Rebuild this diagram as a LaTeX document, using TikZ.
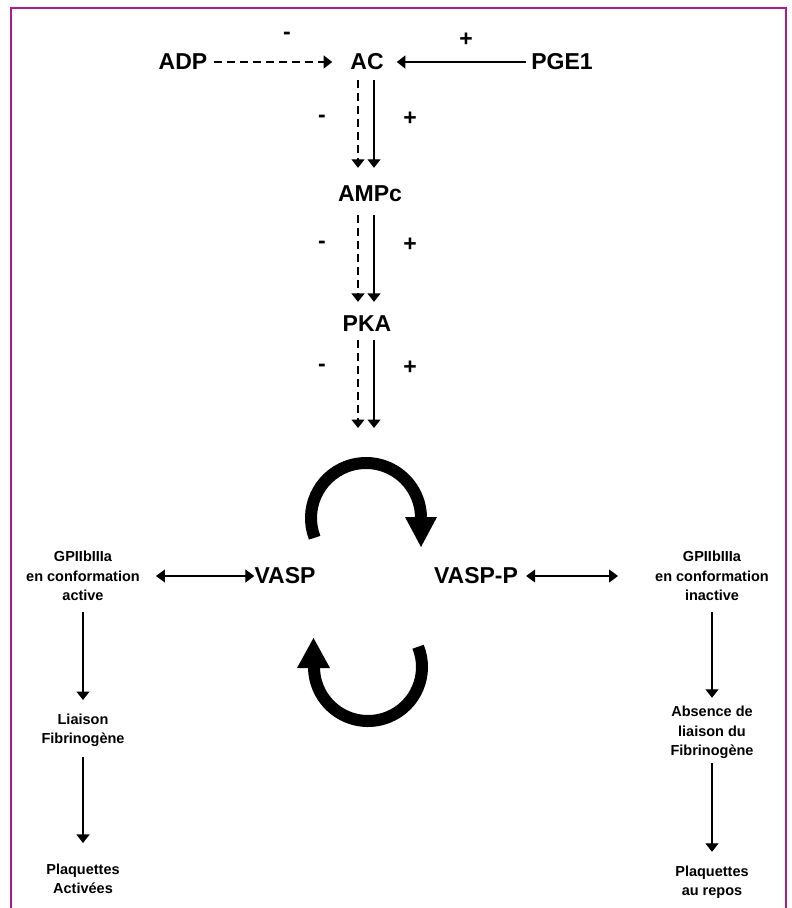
\documentclass[tikz,border=0pt]{standalone}
\usepackage{fontspec}
\setmainfont{Liberation Sans}
\usetikzlibrary{arrows.meta}
\definecolor{framecol}{RGB}{170,30,135}
\begin{document}
\begin{tikzpicture}[x=1pt,y=1pt,
 big/.style={font=\fontsize{23}{27}\selectfont\bfseries, inner sep=0pt},
 small/.style={font=\fontsize{14.5}{19.5}\selectfont\bfseries, inner sep=0pt, align=center},
 sign/.style={font=\fontsize{23}{27}\selectfont\bfseries, inner sep=0pt},
 arr/.style={line width=1.3pt, -{Triangle[width=13pt,length=8.5pt]}},
 darr/.style={line width=1.3pt, {Triangle[width=13pt,length=9pt]}-{Triangle[width=13pt,length=9pt]}},
 dsh/.style={dash pattern=on 8pt off 5pt},
 cyc/.style={line width=12pt},
]
\useasboundingbox (0,0) rectangle (792,-908);
\draw[framecol, line width=2pt] (11,-908) -- (11,-8) -- (786,-8) -- (786,-908);

% main nodes
\node[big] (ADP) at (183,-62) {ADP};
\node[big] (AC) at (367,-62) {AC};
\node[big] (PGE) at (562,-62) {PGE1};
\node[big] (AMPc) at (370,-194) {AMPc};
\node[big] (PKA) at (367,-324) {PKA};
\node[big] (VASP) at (285,-576) {VASP};
\node[big] (VASPP) at (476,-576) {VASP-P};
\coordinate (cyctop) at (367,-428);

% signs
\node[sign] (m1) at (287,-36) {-};
\node[sign] (p1) at (466,-40) {+};
\node[sign] (m2) at (322,-119) {-};
\node[sign] (p2) at (410,-119) {+};
\node[sign] (m3) at (322,-245) {-};
\node[sign] (p3) at (410,-245) {+};
\node[sign] (m4) at (322,-368) {-};
\node[sign] (p4) at (410,-368) {+};

% side texts
\node[small] (gpL) at (83,-576) {GPIIbIIIa\\en conformation\\active};
\node[small] (liaison) at (83,-730.25) {Liaison\\Fibrinogène};
\node[small] (plaqA) at (83,-878.75) {Plaquettes\\Activées};
\node[small] (gpR) at (712,-576) {GPIIbIIIa\\en conformation\\inactive};
\node[small] (absence) at (712,-732.75) {Absence de\\liaison du\\Fibrinogène};
\node[small] (plaqR) at (712,-882) {Plaquettes\\au repos};

% top arrows
\draw[arr,dsh] ([xshift=7pt]ADP.east) -- ([xshift=-18pt]AC.west);
\draw[arr] ([xshift=-5pt]PGE.west) -- ([xshift=13pt]AC.east);

% cascade
\draw[arr,dsh] ([xshift=-9pt,yshift=-10pt]AC.south) -- ([xshift=-12pt,yshift=18pt]AMPc.north);
\draw[arr] ([xshift=7pt,yshift=-10pt]AC.south) -- ([xshift=4pt,yshift=18pt]AMPc.north);
\draw[arr,dsh] ([xshift=-12pt,yshift=-13pt]AMPc.south) -- ([xshift=-9pt,yshift=14pt]PKA.north);
\draw[arr] ([xshift=4pt,yshift=-13pt]AMPc.south) -- ([xshift=7pt,yshift=14pt]PKA.north);
\draw[arr,dsh] ([xshift=-9pt,yshift=-8pt]PKA.south) -- ([xshift=-9pt]cyctop);
\draw[arr] ([xshift=7pt,yshift=-8pt]PKA.south) -- ([xshift=7pt]cyctop);

% cycle arrows
\draw[cyc] (366,-518) ++(201:55) arc[start angle=201,end angle=0,radius=55];
\fill (405,-517) -- (437,-517) -- (421,-547) -- cycle;
\draw[cyc] (368,-667) ++(22:54) arc[start angle=22,end angle=-180,radius=54];
\fill (297,-668) -- (330,-668) -- (313.5,-638) -- cycle;

% double arrows
\draw[darr] ([xshift=16pt]gpL.east) -- (VASP.west);
\draw[darr] ([xshift=8pt]VASPP.east) -- ([xshift=-37pt]gpR.west);

% side arrows
\draw[arr] ([yshift=-11pt]gpL.south) -- ([yshift=13.5pt]liaison.north);
\draw[arr] ([yshift=-10pt]liaison.south) -- ([yshift=20.5pt]plaqA.north);
\draw[arr] ([yshift=-11pt]gpR.south) -- ([yshift=8.5pt]absence.north);
\draw[arr] ([yshift=-4pt]absence.south) -- ([yshift=13.5pt]plaqR.north);
\end{tikzpicture}
\end{document}
